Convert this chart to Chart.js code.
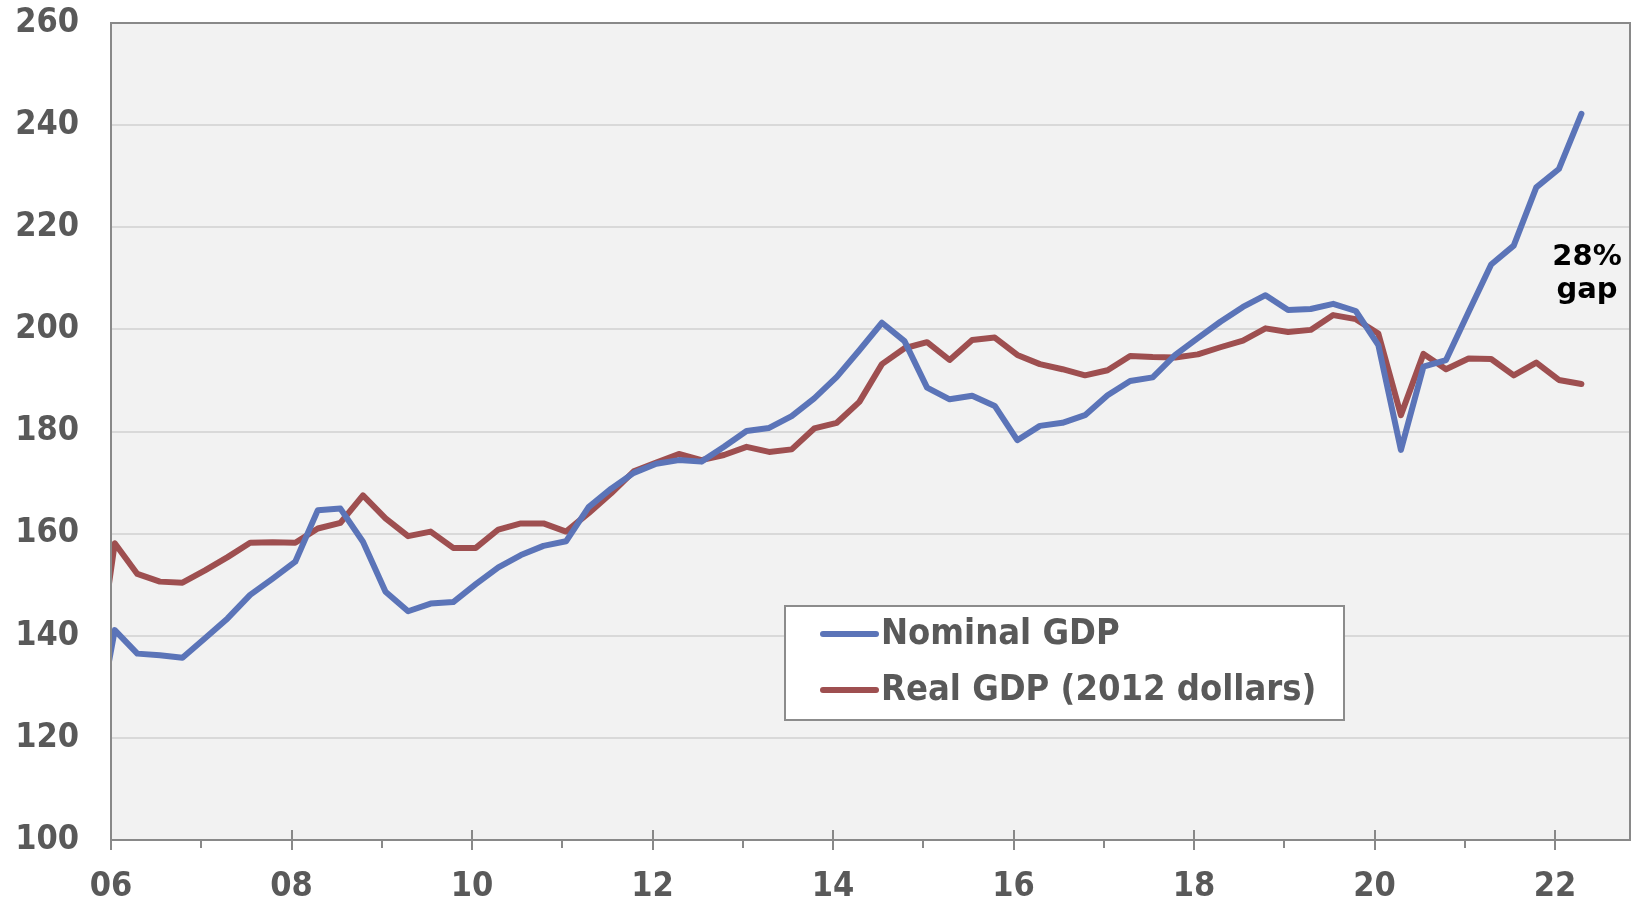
<!DOCTYPE html>
<html>
<head>
<meta charset="utf-8">
<script src="https://cdn.jsdelivr.net/npm/chart.js@4.4.1/dist/chart.umd.min.js"></script>
<style>
  html, body { margin: 0; padding: 0; background: #fff; }
</style>
</head>
<body>
<canvas id="chart" width="1640" height="899"></canvas>
<script>
  // --- DATA ---
  // quarters, dated mid-month of the quarter's first month (first one sits just left of the axis)
  const quarters = [
    '2005Q4',
    '2006Q1', '2006Q2', '2006Q3', '2006Q4', '2007Q1', '2007Q2', '2007Q3', '2007Q4',
    '2008Q1', '2008Q2', '2008Q3', '2008Q4', '2009Q1', '2009Q2', '2009Q3', '2009Q4',
    '2010Q1', '2010Q2', '2010Q3', '2010Q4', '2011Q1', '2011Q2', '2011Q3', '2011Q4',
    '2012Q1', '2012Q2', '2012Q3', '2012Q4', '2013Q1', '2013Q2', '2013Q3', '2013Q4',
    '2014Q1', '2014Q2', '2014Q3', '2014Q4', '2015Q1', '2015Q2', '2015Q3', '2015Q4',
    '2016Q1', '2016Q2', '2016Q3', '2016Q4', '2017Q1', '2017Q2', '2017Q3', '2017Q4',
    '2018Q1', '2018Q2', '2018Q3', '2018Q4', '2019Q1', '2019Q2', '2019Q3', '2019Q4',
    '2020Q1', '2020Q2', '2020Q3', '2020Q4', '2021Q1', '2021Q2', '2021Q3', '2021Q4',
    '2022Q1', '2022Q2'
  ];

  const nominalGdp = [
    117.0,
    141.1, 136.5, 136.2, 135.7, 139.5, 143.4, 148.0, 151.2,
    154.5, 164.6, 164.9, 158.4, 148.6, 144.8, 146.3, 146.6,
    150.1, 153.4, 155.8, 157.6, 158.5, 165.2, 168.8, 171.9,
    173.7, 174.4, 174.1, 177.0, 180.1, 180.7, 183.0, 186.5,
    190.7, 195.9, 201.3, 197.7, 188.6, 186.3, 187.0, 185.0,
    178.3, 181.1, 181.7, 183.2, 187.1, 189.9, 190.6, 195.0,
    198.3, 201.5, 204.4, 206.7, 203.8, 204.0, 205.0, 203.6,
    196.9, 176.4, 192.7, 194.0, 203.4, 212.7, 216.4, 227.8,
    231.4, 242.2
  ];

  const realGdp = [
    127.0,
    158.1, 152.1, 150.6, 150.4, 152.8, 155.4, 158.2, 158.3,
    158.2, 161.0, 162.1, 167.5, 163.0, 159.5, 160.4, 157.2,
    157.2, 160.8, 162.0, 162.0, 160.4, 164.0, 167.9, 172.2,
    173.9, 175.6, 174.4, 175.4, 177.0, 176.0, 176.5, 180.6,
    181.7, 185.8, 193.2, 196.3, 197.5, 194.0, 197.9, 198.4,
    195.0, 193.2, 192.2, 191.0, 192.0, 194.8, 194.6, 194.5,
    195.1, 196.5, 197.8, 200.2, 199.5, 199.9, 202.8, 202.0,
    199.2, 183.2, 195.2, 192.2, 194.3, 194.2, 191.0, 193.5,
    190.1, 189.3
  ];

  const seriesNames = ['Nominal GDP', 'Real GDP (2012 dollars)'];
  const seriesColors = ['#5b74b8', '#9e4f50'];
  const yTicks = [100, 120, 140, 160, 180, 200, 220, 240, 260];
  const xYears = [2006, 2007, 2008, 2009, 2010, 2011, 2012, 2013, 2014, 2015, 2016, 2017, 2018, 2019, 2020, 2021, 2022];
  const xRange = [2006, 2022.83];
  const gapNote = ['28%', 'gap'];

  // --- FONTS ---
  // the original looks Tahoma-ish (narrow, tall); use the condensed DejaVu when it's there
  const hasCondensed = (() => {
    const c = document.createElement('canvas').getContext('2d');
    c.font = "bold 40px 'DejaVu Sans Condensed', monospace";
    const w = c.measureText('260 Nominal GDP').width;
    c.font = 'bold 40px monospace';
    return w !== c.measureText('260 Nominal GDP').width;
  })();
  const FONT = "'DejaVu Sans', Verdana, sans-serif";
  const LABEL_FONT = hasCondensed ? "'DejaVu Sans Condensed', 'DejaVu Sans', sans-serif" : FONT;
  const LABEL_SIZE = hasCondensed ? 34 : 31;
  const LEGEND_SIZE = hasCondensed ? 36 : 32;
  const GREY_TEXT = '#595959';

  // --- HELPERS ---
  const toYear = (q) => {
    const yr = Number(q.slice(0, 4));
    const n = Number(q.slice(5));
    return yr + (n - 1) / 4 + 0.5 / 12;
  };
  const points = (vals) => vals.map((v, i) => ({ x: toYear(quarters[i]), y: v }));

  // plot background, frame, x tick marks, legend box and the note
  const decor = {
    id: 'decor',
    beforeDraw(chart) {
      const { ctx, chartArea: a } = chart;
      ctx.save();
      ctx.fillStyle = '#f2f2f2';
      ctx.fillRect(a.left, a.top, a.right - a.left, a.bottom - a.top);
      ctx.restore();
    },
    afterDatasetsDraw(chart) {
      const { ctx, chartArea: a, scales: { x } } = chart;
      ctx.save();
      ctx.strokeStyle = '#898989';
      ctx.lineWidth = 2;
      ctx.strokeRect(a.left, a.top, a.right - a.left, a.bottom - a.top);

      ctx.beginPath();
      xYears.forEach(yr => {
        const px = Math.round(x.getPixelForValue(yr));
        const major = yr % 2 === 0;
        ctx.moveTo(px, a.bottom - (major ? 10 : 0));
        ctx.lineTo(px, a.bottom + (major ? 10 : 8));
      });
      ctx.stroke();

      // legend
      const box = { l: 785, t: 606, r: 1344, b: 720 };
      ctx.fillStyle = '#fff';
      ctx.fillRect(box.l, box.t, box.r - box.l, box.b - box.t);
      ctx.strokeStyle = '#8c8c8c';
      ctx.strokeRect(box.l, box.t, box.r - box.l, box.b - box.t);
      const rows = [634, 690];
      chart.data.datasets.forEach((ds, i) => {
        ctx.strokeStyle = ds.borderColor;
        ctx.lineWidth = 6;
        ctx.lineCap = 'round';
        ctx.beginPath();
        ctx.moveTo(823, rows[i]);
        ctx.lineTo(876, rows[i]);
        ctx.stroke();
        ctx.fillStyle = GREY_TEXT;
        ctx.font = `bold ${LEGEND_SIZE}px ${LABEL_FONT}`;
        ctx.textAlign = 'left';
        ctx.textBaseline = 'middle';
        ctx.fillText(ds.label, 881, rows[i] + 1);
      });

      // note
      ctx.fillStyle = '#000';
      ctx.font = `bold 29px ${FONT}`;
      ctx.textAlign = 'center';
      ctx.textBaseline = 'middle';
      ctx.fillText(gapNote[0], 1587, 257);
      ctx.fillText(gapNote[1], 1587, 290);
      ctx.restore();
    }
  };

  // --- CHART ---
  new Chart(document.getElementById('chart').getContext('2d'), {
    type: 'line',
    data: {
      datasets: [nominalGdp, realGdp].map((vals, i) => ({
        label: seriesNames[i],
        data: points(vals),
        borderColor: seriesColors[i],
        backgroundColor: seriesColors[i],
        borderWidth: 6,
        borderJoinStyle: 'round',
        borderCapStyle: 'round',
        pointRadius: 0,
        tension: 0,
        clip: 0
      }))
    },
    options: {
      responsive: false,
      animation: false,
      devicePixelRatio: 1,
      layout: { padding: { top: 23, right: 10, left: 0, bottom: 0 } },
      plugins: { legend: { display: false }, tooltip: { enabled: false } },
      scales: {
        x: {
          type: 'linear',
          min: xRange[0],
          max: xRange[1],
          grid: { display: false, drawTicks: false },
          border: { display: false },
          afterBuildTicks: (s) => { s.ticks = xYears.map(v => ({ value: v })); },
          afterFit: (s) => { s.height = 59; s.paddingLeft = 0; s.paddingRight = 0; },
          ticks: {
            autoSkip: false,
            maxRotation: 0,
            padding: hasCondensed ? 27 : 29,
            color: GREY_TEXT,
            font: { family: LABEL_FONT, size: LABEL_SIZE, weight: 'bold' },
            callback: (v) => (v % 2 === 0) ? String(v % 100).padStart(2, '0') : ''
          }
        },
        y: {
          min: yTicks[0],
          max: yTicks[yTicks.length - 1],
          grid: { color: '#d9d9d9', lineWidth: 2, drawTicks: false },
          border: { display: false },
          afterBuildTicks: (s) => { s.ticks = yTicks.map(v => ({ value: v })); },
          afterFit: (s) => { s.width = 111; s.paddingTop = 0; s.paddingBottom = 0; },
          ticks: {
            padding: 32,
            color: GREY_TEXT,
            font: { family: LABEL_FONT, size: LABEL_SIZE, weight: 'bold' }
          }
        }
      }
    },
    plugins: [decor]
  });
</script>
</body>
</html>
